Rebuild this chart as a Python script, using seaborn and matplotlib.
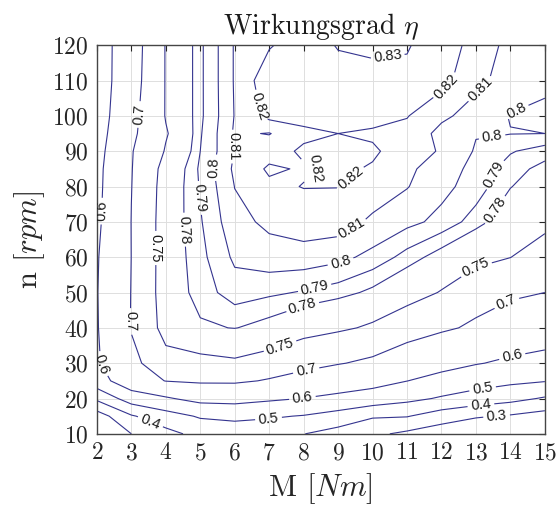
import numpy as np
import pandas as pd
import seaborn as sns
import matplotlib
matplotlib.use('Agg')
from matplotlib import pyplot as plt

# torque [Nm] and speed [rpm] grid of the measurement
torque = [2, 3, 4, 5, 6, 7, 8, 9, 10, 11, 12, 13, 14, 15]
speed = [10, 15, 20, 25, 30, 40, 50, 60, 70, 80, 85, 90, 95, 100, 110, 120]

# efficiency per speed row (one value per torque)
eta_n010 = [0.10, 0.30, 0.37, 0.43, 0.45, 0.44, 0.402, 0.36, 0.32, 0.28, 0.24, 0.21, 0.18, 0.15]
eta_n015 = [0.25, 0.39, 0.46, 0.51, 0.52, 0.51, 0.495, 0.465, 0.41, 0.405, 0.35, 0.31, 0.29, 0.26]
eta_n020 = [0.42, 0.55, 0.59, 0.63, 0.635, 0.615, 0.598, 0.575, 0.56, 0.525, 0.49, 0.46, 0.43, 0.39]
eta_n025 = [0.56, 0.66, 0.702, 0.71, 0.71, 0.695, 0.68, 0.66, 0.63, 0.601, 0.57, 0.54, 0.52, 0.505]
eta_n030 = [0.59, 0.685, 0.735, 0.74, 0.745, 0.735, 0.715, 0.703, 0.69, 0.665, 0.63, 0.605, 0.585, 0.57]
eta_n040 = [0.595, 0.703, 0.765, 0.778, 0.7805, 0.775, 0.765, 0.756, 0.745, 0.725, 0.71, 0.69, 0.665, 0.65]
eta_n050 = [0.597, 0.702, 0.77, 0.785, 0.795, 0.792, 0.789, 0.785, 0.777, 0.765, 0.748, 0.725, 0.71, 0.70]
eta_n060 = [0.594, 0.7005, 0.77, 0.787, 0.802, 0.806, 0.806, 0.803, 0.797, 0.786, 0.774, 0.76, 0.7505, 0.73]
eta_n070 = [0.585, 0.701, 0.77, 0.789, 0.807, 0.812, 0.815, 0.815, 0.808, 0.803, 0.797, 0.785, 0.77, 0.76]
eta_n080 = [0.58, 0.699, 0.768, 0.791, 0.8102, 0.818, 0.8203, 0.8202, 0.816, 0.8105, 0.803, 0.7955, 0.7805, 0.772]
eta_n085 = [0.578, 0.698, 0.765, 0.792, 0.812, 0.8215, 0.819, 0.822, 0.819, 0.812, 0.805, 0.797, 0.785, 0.776]
eta_n090 = [0.57, 0.697, 0.753, 0.79, 0.8105, 0.816, 0.8215, 0.823, 0.8215, 0.815, 0.809, 0.799, 0.791, 0.785]
eta_n095 = [0.56, 0.69, 0.747, 0.789, 0.8115, 0.8095, 0.818, 0.820, 0.8185, 0.817, 0.807, 0.8005, 0.8003, 0.80]
eta_n100 = [0.55, 0.685, 0.752, 0.788, 0.8105, 0.823, 0.823, 0.824, 0.8235, 0.8205, 0.812, 0.806, 0.7995, 0.7995]
eta_n110 = [0.54, 0.678, 0.752, 0.788, 0.811, 0.827, 0.826, 0.827, 0.8275, 0.827, 0.8235, 0.8125, 0.806, 0.8005]
eta_n120 = [0.54, 0.675, 0.752, 0.788, 0.811, 0.819, 0.826, 0.8305, 0.8315, 0.831, 0.823, 0.818, 0.806, 0.803]

levels = [0.3, 0.4, 0.5, 0.6, 0.7, 0.75, 0.78, 0.79, 0.8, 0.81, 0.82, 0.83]

rows = [eta_n010, eta_n015, eta_n020, eta_n025, eta_n030, eta_n040, eta_n050, eta_n060,
        eta_n070, eta_n080, eta_n085, eta_n090, eta_n095, eta_n100, eta_n110, eta_n120]
eta = pd.DataFrame(rows, index=speed, columns=torque)

sns.set_style('white')
plt.rcParams['mathtext.fontset'] = 'cm'
plt.rcParams['font.family'] = ['cmr10', 'DejaVu Serif']
plt.rcParams['axes.unicode_minus'] = False
plt.rcParams['axes.formatter.use_mathtext'] = True

fig = plt.figure(figsize=(5.6, 5.08), dpi=100)
ax = fig.add_axes([0.173, 0.146, 0.800, 0.765])

X, Y = np.meshgrid(eta.columns.values, eta.index.values)
cs = ax.contour(X, Y, eta.values, levels=levels, colors='#34348f', linewidths=0.8)

# approximate spots where the labels sit in the original
label_spots = [(2.23, 73), (2.18, 30), (3.21, 100.4), (2.95, 41.8), (3.7, 62.6),
               (4.55, 67.8), (5.02, 76.8), (5.48, 85.2), (6.1, 91.4), (6.73, 102.7),
               (10.45, 116), (12.15, 108.2), (13.24, 106.5), (14.07, 103.7), (13.45, 95.2),
               (8.54, 83.8), (9.2, 84.3), (9.41, 67.8), (9.05, 59.3), (8.33, 50.8),
               (8.02, 44.6), (7.35, 33.8), (8.07, 28.1), (7.97, 19.6), (6.98, 14.4),
               (3.57, 13.8), (13.45, 83.8), (13.4, 74.4), (13.03, 56.4), (13.97, 45.6),
               (14.07, 31), (13.19, 22.9), (13.14, 18.5), (13.6, 14.9)]
lbls = ax.clabel(cs, fmt='%g', inline=True, inline_spacing=4, manual=label_spots,
                 fontsize=10.5, colors='#1a1a1a')
for t in lbls:
    t.set_family('Liberation Sans')

ax.set_xlim(2, 15)
ax.set_ylim(10, 120)
ax.set_xticks(torque)
ax.set_yticks(range(10, 121, 10))
ax.grid(True, color='#dedede', linewidth=0.7)
ax.set_axisbelow(True)
ax.tick_params(direction='in', length=4, width=0.8, top=True, right=True,
               labelsize=17, colors='#262626', pad=6)
for s in ax.spines.values():
    s.set_color('#454545')
    s.set_linewidth(1.0)

ax.set_title(r'Wirkungsgrad $\eta$', fontsize=20, color='#1a1a1a', pad=8)
ax.set_xlabel(r'M $[Nm]$', fontsize=22, color='#262626', labelpad=5)
ax.set_ylabel(r'n $[rpm]$', fontsize=22, color='#262626', labelpad=4)

fig.savefig('out.png', dpi=100)
